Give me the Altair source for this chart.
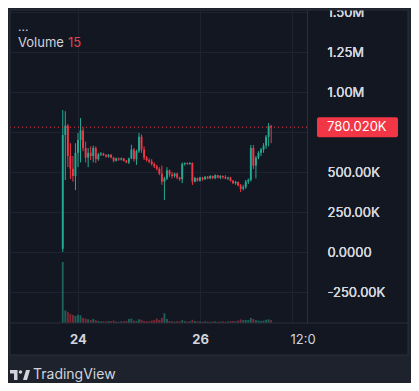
import altair as alt
import pandas as pd

# ---------------- data ----------------
hours = pd.date_range("2024-12-23 18:00", periods=83, freq="h").strftime("%Y-%m-%dT%H:%M:%S").tolist()

open_k = [20, 731, 790, 600, 520, 475, 620, 700, 760, 650,
          590, 620, 600, 650, 580, 610, 615, 605, 595, 608,
          590, 570, 585, 578, 585, 570, 560, 585, 640, 580,
          630, 720, 640, 590, 575, 565, 550, 535, 520, 490,
          440, 460, 510, 485, 475, 490, 465, 455, 550, 555,
          550, 556, 440, 462, 445, 465, 455, 470, 460, 475,
          462, 480, 465, 475, 468, 460, 465, 445, 430, 438,
          415, 395, 405, 440, 450, 650, 540, 590, 620, 640,
          665, 720, 787]
high_k = [887, 880, 800, 680, 600, 680, 744, 837, 780, 690,
          650, 660, 665, 660, 620, 625, 620, 612, 612, 612,
          595, 590, 590, 590, 588, 575, 590, 670, 650, 640,
          744, 735, 660, 600, 585, 580, 560, 545, 530, 540,
          470, 530, 515, 500, 495, 495, 470, 560, 560, 560,
          562, 560, 470, 465, 470, 470, 475, 475, 480, 478,
          485, 482, 480, 478, 480, 470, 470, 450, 445, 440,
          425, 420, 450, 460, 669, 669, 600, 630, 650, 680,
          731, 806, 794]
low_k = [0, 450, 531, 456, 440, 387, 530, 560, 630, 560,
         530, 575, 560, 556, 570, 600, 600, 590, 590, 585,
         560, 565, 570, 572, 565, 555, 550, 580, 565, 545,
         620, 620, 575, 565, 555, 540, 525, 510, 480, 420,
         325, 450, 470, 460, 465, 455, 445, 430, 540, 545,
         545, 419, 435, 440, 440, 445, 450, 455, 455, 455,
         455, 460, 455, 458, 455, 450, 440, 425, 420, 410,
         375, 385, 395, 425, 440, 519, 460, 580, 600, 620,
         645, 660, 680]
close_k = [731, 790, 600, 520, 475, 620, 700, 760, 650, 590,
           620, 600, 650, 580, 610, 615, 605, 595, 608, 590,
           570, 585, 578, 585, 570, 560, 585, 640, 580, 630,
           720, 640, 590, 575, 565, 550, 535, 520, 490, 440,
           460, 510, 485, 475, 490, 465, 455, 550, 555, 550,
           556, 440, 462, 445, 465, 455, 470, 460, 475, 462,
           480, 465, 475, 468, 460, 465, 445, 430, 438, 415,
           395, 405, 440, 450, 650, 540, 590, 620, 640, 665,
           720, 787, 780.02]
volume = [300, 62, 55, 45, 40, 35, 40, 38, 25, 22,
          18, 15, 20, 14, 10, 8, 9, 7, 10, 8,
          12, 7, 6, 8, 9, 10, 20, 22, 12, 10,
          18, 16, 10, 9, 8, 12, 14, 22, 15, 25,
          48, 20, 10, 8, 7, 9, 8, 14, 9, 7,
          8, 16, 10, 8, 7, 6, 8, 7, 6, 7,
          8, 6, 7, 8, 6, 7, 9, 10, 8, 12,
          18, 14, 15, 14, 25, 20, 14, 12, 10, 12,
          16, 18, 15]

price_ticks = [-250000, 0, 250000, 500000, 750000, 1000000, 1250000, 1500000]

# ---------------- styling ----------------
UP = "#22ab94"
DOWN = "#f23645"
PANEL = "#131722"
OUTER = "#1e222d"
LINE = "#2a2e39"
GRID = "#1f2331"
TEXT = "#d1d4dc"
FONT = "Inter"

df = pd.DataFrame({
    "t": hours,
    "open": [v * 1000 for v in open_k],
    "high": [v * 1000 for v in high_k],
    "low": [v * 1000 for v in low_k],
    "close": [v * 1000 for v in close_k],
    "volume": volume,
})
df["dir"] = ["up" if c >= o else "down" for o, c in zip(df["open"], df["close"])]

last_price = close_k[-1] * 1000
last_df = pd.DataFrame({"price": [last_price], "label": [f"{close_k[-1]:.3f}K"]})
vol_df = pd.DataFrame({"v": [str(volume[-1])]})
one = pd.DataFrame({"k": [0]})

x_scale = alt.Scale(
    type="time",
    domain=[alt.DateTime(year=2024, month=12, date=24),
            alt.DateTime(year=2024, month=12, date=27, hours=12)],
    range=[68, 281.5],
    nice=False,
    padding=0,
)
is_noon = "hours(datum.value) == 12"
x_axis = alt.Axis(
    values=[alt.DateTime(year=2024, month=12, date=24),
            alt.DateTime(year=2024, month=12, date=26),
            alt.DateTime(year=2024, month=12, date=27, hours=12)],
    labelExpr="hours(datum.value) == 12 ? '12:0' : timeFormat(datum.value, '%d')",
    labelFontWeight={"condition": {"test": is_noon, "value": 400}, "value": 700},
    labelOffset={"condition": {"test": is_noon, "value": 11}, "value": 0},
    grid=True, gridColor=GRID, domain=False, ticks=False, tickSize=0,
    labelColor=TEXT, labelFont=FONT, labelFontSize=13, labelPadding=10,
    labelOverlap=False, labelBound=False, labelFlush=False, title=None,
)
X = alt.X("t:T", scale=x_scale, axis=x_axis)

y_scale = alt.Scale(domain=[-443750, 1512500], nice=False, zero=False, padding=0)
y_axis = alt.Axis(
    orient="right", values=price_ticks,
    labelExpr=("datum.value == 750000 ? '' : datum.value == 0 ? '0.0000' : "
               "abs(datum.value) >= 1000000 ? format(datum.value / 1000000, '.2f') + 'M' : "
               "(datum.value < 0 ? '-' : '') + format(abs(datum.value) / 1000, '.2f') + 'K'"),
    grid=True, gridColor=GRID, domain=True, domainColor=LINE, ticks=False, tickSize=0,
    labelColor=TEXT, labelFont=FONT, labelFontSize=13, labelPadding=20,
    labelAlign="left", labelOverlap=False, labelBound=False, title=None,
)
color = alt.Color("dir:N", scale=alt.Scale(domain=["up", "down"], range=[UP, DOWN]), legend=None)

wicks = alt.Chart(df).mark_rule(strokeWidth=1).encode(
    x=X,
    y=alt.Y("low:Q", scale=y_scale, axis=y_axis),
    y2="high:Q",
    color=color,
)
bodies = alt.Chart(df).mark_bar(size=1.9).encode(
    x=X,
    y=alt.Y("open:Q", scale=y_scale, axis=y_axis),
    y2="close:Q",
    color=color,
)
price_line = alt.Chart(last_df).mark_rule(color=DOWN, strokeDash=[1, 3], strokeWidth=1).encode(
    y=alt.Y("price:Q", scale=y_scale, axis=y_axis),
    x=alt.value(0), x2=alt.value(297),
)
price_box = alt.Chart(last_df).mark_rect(color=DOWN, yOffset=-10, y2Offset=10, cornerRadius=2).encode(
    y=alt.Y("price:Q", scale=y_scale, axis=y_axis),
    y2="price:Q",
    x=alt.value(307), x2=alt.value(388),
)
price_text = alt.Chart(last_df).mark_text(
    align="left", baseline="middle", color="#ffffff", font=FONT, fontSize=13
).encode(
    y=alt.Y("price:Q", scale=y_scale, axis=y_axis),
    x=alt.value(317),
    text="label:N",
)
price_group = alt.layer(wicks, bodies, price_line)

vol = alt.Chart(df).mark_bar(size=1.9, opacity=0.5).encode(
    x=X,
    y=alt.Y("volume:Q", scale=alt.Scale(domain=[0, 1539], nice=False, padding=0), axis=None),
    color=color,
)

def strip(x0, x1, y0, y1, fill):
    return alt.Chart(one).mark_rect(color=fill).encode(
        x=alt.value(x0), x2=alt.value(x1), y=alt.value(y0), y2=alt.value(y1))

outer_bottom = strip(-2, 401, 345, 373, OUTER)
outer_top = strip(-2, 401, -2, 0, OUTER)
outer_left = strip(-2, 0, -2, 373, OUTER)
outer_right = strip(398, 401, -2, 373, OUTER)
border = alt.Chart(one).mark_rect(fillOpacity=0, stroke=LINE, strokeWidth=1).encode(
    x=alt.value(0), x2=alt.value(398), y=alt.value(0), y2=alt.value(345))
time_sep = alt.Chart(one).mark_rule(color=LINE, strokeWidth=1).encode(
    x=alt.value(0), x2=alt.value(398), y=alt.value(313))

def label(txt, x, y, size=13, col=TEXT, weight=400):
    return alt.Chart(one).mark_text(
        text=txt, align="left", baseline="middle", font=FONT, fontSize=size,
        color=col, fontWeight=weight
    ).encode(x=alt.value(x), y=alt.value(y))

dots = label("...", 8, 17, 12)
vol_name = label("Volume", 8, 33, 13)
vol_value = alt.Chart(vol_df).mark_text(
    align="left", baseline="middle", font=FONT, fontSize=13, color="#e0444f"
).encode(x=alt.value(58), y=alt.value(33), text="v:N")
brand = label("TradingView", 23, 365, 14)
logo_path = ("M-1,-0.5 H-0.25 V0.5 H-0.6 V-0.15 H-1 Z "
             "M-0.12,-0.3 A0.17,0.17 0 1,0 0.22,-0.3 A0.17,0.17 0 1,0 -0.12,-0.3 Z "
             "M0.3,0.5 L0.6,-0.5 H1 L0.7,0.5 Z")
logo = alt.Chart(one).mark_point(
    shape=logo_path, filled=True, color=TEXT, size=400, opacity=1, strokeWidth=0
).encode(x=alt.value(10), y=alt.value(365))

chart = alt.layer(
    price_group, vol, price_box, price_text,
    outer_bottom, outer_top, outer_left, outer_right, border, time_sep,
    dots, vol_name, vol_value, brand, logo,
).resolve_scale(y="independent").properties(
    width=297, height=313,
    padding={"left": 2, "top": 2, "right": 104, "bottom": 60},
    autosize=alt.AutoSizeParams(type="none"),
    background=PANEL,
).configure_view(stroke="transparent")

chart.save("out.html", embed_options={"renderer": "svg", "actions": False})
